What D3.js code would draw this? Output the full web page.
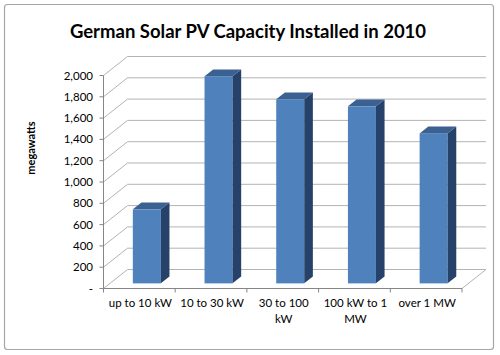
<!DOCTYPE html>
<html><head><meta charset="utf-8">
<script src="https://cdn.jsdelivr.net/npm/d3@7"></script>
<style>body{margin:0;background:#fff}svg{display:block}</style>
</head><body>
<script>
const categories = [["up to 10 kW"], ["10 to 30 kW"], ["30 to 100", "kW"], ["100 kW to 1", "MW"], ["over 1 MW"]];
const values = [695, 1945, 1728, 1662, 1408];
const yTicks = [0, 200, 400, 600, 800, 1000, 1200, 1400, 1600, 1800, 2000];
const tickLabel = v => v === 0 ? "-" : d3.format(",")(v);

const W = 500, H = 355;
const svg = d3.select("body").append("svg").attr("width", W).attr("height", H);
const font = "Lato, 'Open Sans', sans-serif";

svg.append("rect").attr("x", 4.5).attr("y", 4.5).attr("width", 489).attr("height", 345)
  .attr("rx", 3).attr("fill", "#fff").attr("stroke", "#a6a6a6").attr("stroke-width", 1.2);

svg.append("text").attr("x", 248).attr("y", 38).attr("text-anchor", "middle")
  .attr("font-family", font).attr("font-weight", "bold").attr("font-size", 18.5)
  .attr("fill", "#000").text("German Solar PV Capacity Installed in 2010");

const y = d3.scaleLinear().domain([0, 2000]).range([288.5, 75.5]);
const x = d3.scaleBand().domain(d3.range(categories.length)).range([103.5, 462]);
const D = [24, -19];          // depth vector
const grid = "#b3b3b3", axisC = "#868686";

const g = svg.append("g");
// back wall gridlines
yTicks.forEach(v => {
  g.append("line").attr("x1", x.range()[0] + D[0]).attr("x2", x.range()[1] + D[0])
    .attr("y1", y(v) + D[1]).attr("y2", y(v) + D[1]).attr("stroke", grid).attr("stroke-width", 1);
  g.append("line").attr("x1", x.range()[0]).attr("x2", x.range()[0] + D[0])
    .attr("y1", y(v)).attr("y2", y(v) + D[1]).attr("stroke", grid).attr("stroke-width", 1);
});
// floor
const x0 = x.range()[0], x1 = x.range()[1], y0 = y(0);
g.append("path").attr("d", `M${x1},${y0}L${x1 + D[0]},${y0 + D[1]}`).attr("stroke", grid).attr("fill", "none");
// front axes
g.append("line").attr("x1", x0).attr("x2", x0).attr("y1", y(0)).attr("y2", y(2000)).attr("stroke", axisC);
g.append("line").attr("x1", x0).attr("x2", x1).attr("y1", y0).attr("y2", y0).attr("stroke", axisC);
yTicks.forEach(v => {
  g.append("line").attr("x1", x0 - 4).attr("x2", x0).attr("y1", y(v)).attr("y2", y(v)).attr("stroke", axisC);
  g.append("text").attr("x", 93).attr("y", y(v) + 4).attr("text-anchor", "end")
    .attr("font-family", font).attr("font-size", 11.5).attr("fill", "#000").text(tickLabel(v));
});
d3.range(categories.length + 1).forEach(i => {
  const xx = x0 + i * x.step();
  g.append("line").attr("x1", xx).attr("x2", xx).attr("y1", y0).attr("y2", y0 + 4).attr("stroke", axisC);
});
categories.forEach((lines, i) => {
  const cx = x(i) + x.bandwidth() / 2 + 1;
  const t = g.append("text").attr("text-anchor", "middle").attr("font-family", font)
    .attr("font-size", 11.5).attr("fill", "#000");
  lines.forEach((l, j) => t.append("tspan").attr("x", cx).attr("y", 307 + j * 16).text(l));
});

// bars
const bw = 28, f1 = 0.27, f2 = 0.63;
values.forEach((v, i) => {
  const cx = x(i) + x.bandwidth() / 2 + 1;
  const L = cx - bw / 2 + f1 * D[0], R = L + bw;
  const B = y(0) + f1 * D[1], T = y(v) + f1 * D[1];
  const dx = (f2 - f1) * D[0], dy = (f2 - f1) * D[1];
  g.append("rect").attr("x", L).attr("y", T).attr("width", bw).attr("height", B - T).attr("fill", "#4f81bd");
  g.append("path").attr("d", `M${R},${T}L${R + dx},${T + dy}L${R + dx},${B + dy}L${R},${B}Z`).attr("fill", "#27426a");
  g.append("path").attr("d", `M${L},${T}L${L + dx},${T + dy}L${R + dx},${T + dy}L${R},${T}Z`).attr("fill", "#3a6191");
});

svg.append("text").attr("transform", "translate(35,148) rotate(-90)").attr("text-anchor", "middle")
  .attr("font-family", font).attr("font-weight", "bold").attr("font-size", 11).attr("fill", "#000").text("megawatts");
</script>
</body></html>
